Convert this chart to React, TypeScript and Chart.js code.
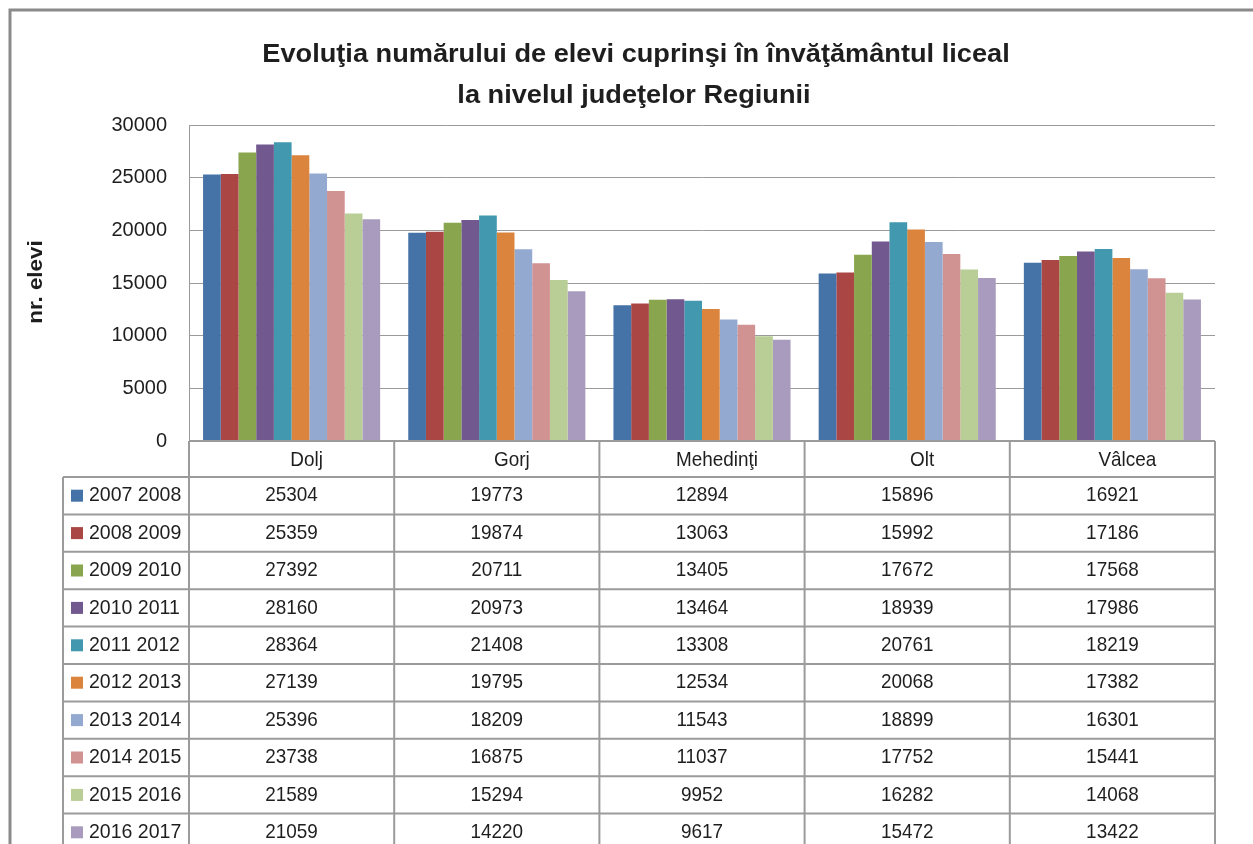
import React, { useEffect, useRef } from "react";
import { Chart, registerables } from "chart.js";

Chart.register(...registerables);

const titleLines = [
  "Evoluţia numărului de elevi cuprinşi în învăţământul liceal",
  "la nivelul judeţelor Regiunii",
];
const yAxisTitle = "nr. elevi";
const categories = ["Dolj", "Gorj", "Mehedinţi", "Olt", "Vâlcea"];
const seriesLabels = [
  "2007 2008",
  "2008 2009",
  "2009 2010",
  "2010 2011",
  "2011 2012",
  "2012 2013",
  "2013 2014",
  "2014 2015",
  "2015 2016",
  "2016 2017",
];
const v2007 = [25304, 19773, 12894, 15896, 16921];
const v2008 = [25359, 19874, 13063, 15992, 17186];
const v2009 = [27392, 20711, 13405, 17672, 17568];
const v2010 = [28160, 20973, 13464, 18939, 17986];
const v2011 = [28364, 21408, 13308, 20761, 18219];
const v2012 = [27139, 19795, 12534, 20068, 17382];
const v2013 = [25396, 18209, 11543, 18899, 16301];
const v2014 = [23738, 16875, 11037, 17752, 15441];
const v2015 = [21589, 15294, 9952, 16282, 14068];
const v2016 = [21059, 14220, 9617, 15472, 13422];
const seriesValues = [v2007, v2008, v2009, v2010, v2011, v2012, v2013, v2014, v2015, v2016];
const seriesColors = [
  "#4572A7",
  "#AA4643",
  "#89A54E",
  "#71588F",
  "#4198AF",
  "#DB843D",
  "#93A9CF",
  "#D19392",
  "#B9CD96",
  "#A99BBD",
];
const yMin = 0;
const yMax = 30000;
const yStep = 5000;

const W = 1253;
const H = 844;
const LINE = "#9b9b9b";
const TEXT = "#1e1e1e";

function drawScaledText(
  ctx: CanvasRenderingContext2D,
  text: string,
  x: number,
  y: number,
  font: string,
  align: CanvasTextAlign,
  sx: number
) {
  ctx.save();
  ctx.translate(x, y);
  ctx.scale(sx, 1);
  ctx.font = font;
  ctx.textAlign = align;
  ctx.textBaseline = "middle";
  ctx.fillStyle = TEXT;
  ctx.fillText(text, 0, 0);
  ctx.restore();
}

const decorPlugin = {
  id: "decor",
  afterDraw(chart: any) {
    const ctx: CanvasRenderingContext2D = chart.ctx;
    const area = chart.chartArea;
    const xs = chart.scales.x;
    const ys = chart.scales.y;
    ctx.save();

    // outer frame
    ctx.strokeStyle = "#8a8a8a";
    ctx.lineWidth = 3;
    ctx.beginPath();
    ctx.moveTo(10, H + 5);
    ctx.lineTo(10, 10);
    ctx.lineTo(W + 5, 10);
    ctx.stroke();

    // title
    const fam = "'Liberation Sans', Arial, sans-serif";
    drawScaledText(ctx, titleLines[0], 636, 55, `bold 26px ${fam}`, "center", 1.045);
    drawScaledText(ctx, titleLines[1], 634, 96, `bold 26px ${fam}`, "center", 1.045);

    // y axis title
    ctx.save();
    ctx.translate(37, 282);
    ctx.rotate(-Math.PI / 2);
    ctx.scale(1.02, 0.9);
    ctx.font = `bold 22px ${fam}`;
    ctx.textAlign = "center";
    ctx.textBaseline = "middle";
    ctx.fillStyle = TEXT;
    ctx.fillText(yAxisTitle, 0, 0);
    ctx.restore();

    // data table
    const n = categories.length;
    const left = area.left;
    const right = area.right;
    const colW = (right - left) / n;
    const y0 = ys.getPixelForValue(0);
    const headerH = 36;
    const rowH = 37.4;
    const keyLeft = 63;
    const tableTop = y0 + headerH;
    const tableBottom = tableTop + rowH * seriesLabels.length;

    ctx.strokeStyle = LINE;
    ctx.lineWidth = 2;
    ctx.beginPath();
    ctx.moveTo(left, y0);
    ctx.lineTo(right, y0);
    for (let r = 0; r <= seriesLabels.length; r++) {
      const yy = tableTop + r * rowH;
      ctx.moveTo(keyLeft, yy);
      ctx.lineTo(right, yy);
    }
    ctx.moveTo(keyLeft, tableTop);
    ctx.lineTo(keyLeft, tableBottom);
    for (let c = 0; c <= n; c++) {
      const xx = c < n ? xs.getPixelForValue(c) - colW / 2 : xs.getPixelForValue(n - 1) + colW / 2;
      ctx.moveTo(xx, y0);
      ctx.lineTo(xx, tableBottom);
    }
    ctx.stroke();

    const tfont = `21px ${fam}`;
    categories.forEach((cat, i) => {
      drawScaledText(ctx, cat, xs.getPixelForValue(i) + 15, y0 + headerH / 2 + 1, tfont, "center", 0.9);
    });
    seriesLabels.forEach((lab, r) => {
      const cy = tableTop + r * rowH + rowH / 2;
      ctx.fillStyle = seriesColors[r];
      ctx.fillRect(71, cy - 6, 12, 12);
      drawScaledText(ctx, lab, 89, cy, tfont, "left", 0.93);
      seriesValues[r].forEach((v, i) => {
        drawScaledText(ctx, String(v), xs.getPixelForValue(i), cy, tfont, "center", 0.9);
      });
    });
    ctx.restore();
  },
};

export default function App() {
  const ref = useRef<HTMLCanvasElement | null>(null);
  useEffect(() => {
    if (!ref.current) return;
    const chart = new Chart(ref.current, {
      type: "bar",
      data: {
        labels: categories,
        datasets: seriesLabels.map((lab, i) => ({
          label: lab,
          data: seriesValues[i],
          backgroundColor: seriesColors[i],
          borderWidth: 0,
          barPercentage: 1,
          categoryPercentage: 0.863,
        })),
      },
      options: {
        responsive: false,
        animation: false,
        devicePixelRatio: 1,
        layout: { padding: { left: 0, top: 125, right: 38, bottom: H - 441 } },
        plugins: {
          legend: { display: false },
          title: { display: false },
          tooltip: { enabled: false },
        },
        scales: {
          x: { display: false },
          y: {
            min: yMin,
            max: yMax,
            ticks: {
              stepSize: yStep,
              padding: 22,
              color: TEXT,
              font: { family: "'Liberation Sans', Arial", size: 20 },
              callback: (v: any) => String(v),
            },
            grid: { color: "#9b9b9b", lineWidth: 1, drawTicks: false },
            border: { color: "#9b9b9b", width: 1 },
            afterFit: (s: any) => {
              s.width = 189;
            },
          },
        },
      },
      plugins: [decorPlugin],
    });
    return () => chart.destroy();
  }, []);
  return (
    <div style={{ position: "fixed", left: 0, top: 0, width: W, height: H, background: "#fff" }}>
      <canvas ref={ref} width={W} height={H} style={{ width: W, height: H, display: "block" }} />
    </div>
  );
}
